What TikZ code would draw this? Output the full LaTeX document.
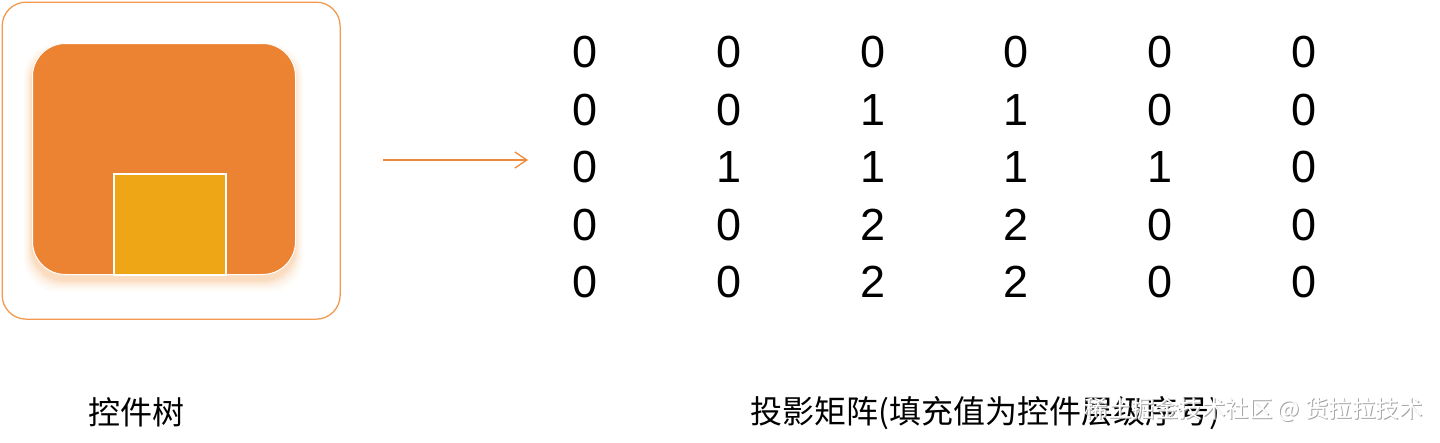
\documentclass[tikz,border=0pt]{standalone}
\usepackage{fontspec}
\setmainfont{Liberation Sans}
\newfontfamily\cjk{Noto Sans CJK SC}
\usetikzlibrary{arrows.meta}
\definecolor{boxorange}{HTML}{EB8333}
\definecolor{childyellow}{HTML}{EEA516}
\definecolor{outerorange}{HTML}{F29A50}
\definecolor{arroworange}{HTML}{EE8A3C}
\definecolor{shadoworange}{HTML}{F5A760}
\tikzset{
  digit/.style={inner sep=0pt, font=\fontsize{45}{45}\selectfont, text=black},
  caption/.style={inner sep=0pt, font=\cjk\fontsize{32}{32}\selectfont, text=black},
  wmark/.style={inner sep=0pt, font=\cjk\fontsize{23.5}{23.5}\selectfont},
}
\begin{document}
\begin{tikzpicture}[x=1pt,y=-1pt]
\useasboundingbox[fill=white] (0,0) rectangle (1440,442);
% outer frame
\node[draw=outerorange, line width=1.3pt, rounded corners=24pt, minimum width=338pt, minimum height=317pt, anchor=north west, inner sep=0pt] (tree) at (1.5,1.5) {};
% soft shadow of the root view
\foreach \s/\o in {16/0.05,12/0.07,8/0.09,5/0.11,2/0.13}{
  \fill[shadoworange, opacity=\o, rounded corners=34pt] (32-\s*0.5,43-\s*0.3+6) rectangle (295+\s*0.5,274+\s*0.7+6);
}
% root view
\node[fill=boxorange, draw=white, line width=1pt, rounded corners=33pt, minimum width=263pt, minimum height=231pt, anchor=north west, inner sep=0pt] (root) at (32,43) {};
% child view
\node[fill=childyellow, draw=white, line width=1.6pt, minimum width=112pt, minimum height=101pt, anchor=north west, inner sep=0pt] (child) at (113,173) {};
% arrow
\coordinate (a0) at (383,160);
\coordinate (a1) at (528,160);
\draw[arroworange, line width=1.3pt, -{Straight Barb[length=12pt,width=16pt]}] (a0) -- (a1);
% matrix
\foreach \r/\row in {1/{0,0,0,0,0,0},2/{0,0,1,1,0,0},3/{0,1,1,1,1,0},4/{0,0,2,2,0,0},5/{0,0,2,2,0,0}}{
  \foreach \v [count=\c] in \row {
    \node[digit] (m\r\c) at ({585+143.8*(\c-1)},{52.5+57.4*(\r-1)}) {\v};
  }
}
% captions
\node[caption] (cap1) at (136,412) {控件树};
\node[caption, anchor=west] (cap2) at (750,413) {投影矩阵(填充值为控件层级序号)};
% watermark
\node[wmark, anchor=east, text=gray!70] (wm0) at (1424,411) {稀土掘金技术社区 @ 货拉拉技术};
\node[wmark, anchor=east, text=white] (wm) at (1423,410) {稀土掘金技术社区 @ 货拉拉技术};
\end{tikzpicture}
\end{document}
